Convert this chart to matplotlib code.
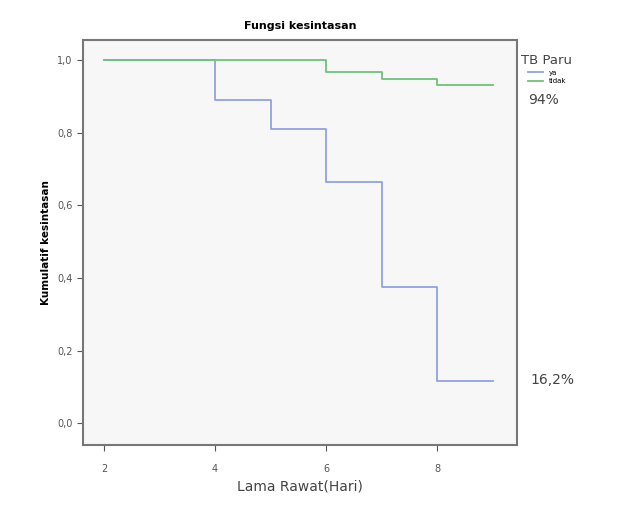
import numpy as np
import matplotlib.pyplot as plt

# step survival curves
days_ya = [2, 4, 5, 6, 7, 8, 9]
surv_ya = [1.0, 0.89, 0.81, 0.665, 0.375, 0.115, 0.115]
days_tidak = [2, 6, 7, 8, 9]
surv_tidak = [1.0, 0.967, 0.948, 0.931, 0.931]
yticks = [0.0, 0.2, 0.4, 0.6, 0.8, 1.0]
xticks = [2, 4, 6, 8]

fig = plt.figure(figsize=(6.18, 5.21), dpi=100)
ax = fig.add_axes([0.134, 0.146, 0.703, 0.777])
ax.set_facecolor('#f7f7f7')

ax.step(days_ya, surv_ya, where='post', color='#8fa3e0', lw=1.3, label='ya')
ax.step(days_tidak, surv_tidak, where='post', color='#6fc27a', lw=1.3, label='tidak')

ax.set_xlim(1.62, 9.44)
ax.set_ylim(-0.06, 1.055)
ax.set_xticks(xticks)
ax.set_yticks(yticks)
ax.set_yticklabels([f'{v:.1f}'.replace('.', ',') for v in yticks])
ax.tick_params(labelsize=7, colors='#555555', length=4)
ax.tick_params(axis='x', pad=10)
for s in ax.spines.values():
    s.set_color('#777777')
    s.set_linewidth(1.5)

ax.set_title('Fungsi kesintasan', fontsize=8, fontweight='bold', pad=8)
ax.set_ylabel('Kumulatif kesintasan', fontsize=7.5, fontweight='bold')
ax.set_xlabel('Lama Rawat(Hari)', fontsize=10, color='#444444', labelpad=4)

leg = ax.legend(title='TB Paru', loc='upper left', bbox_to_anchor=(1.0, 0.975),
                frameon=False, fontsize=5, title_fontsize=9.5,
                handlelength=2.2, borderaxespad=0.2, labelspacing=0.35)
plt.setp(leg.get_title(), color='#444444')

fig.text(0.855, 0.8, '94%', fontsize=10, color='#444444')
fig.text(0.858, 0.262, '16,2%', fontsize=10, color='#444444')

fig.savefig('out.png', dpi=100)
